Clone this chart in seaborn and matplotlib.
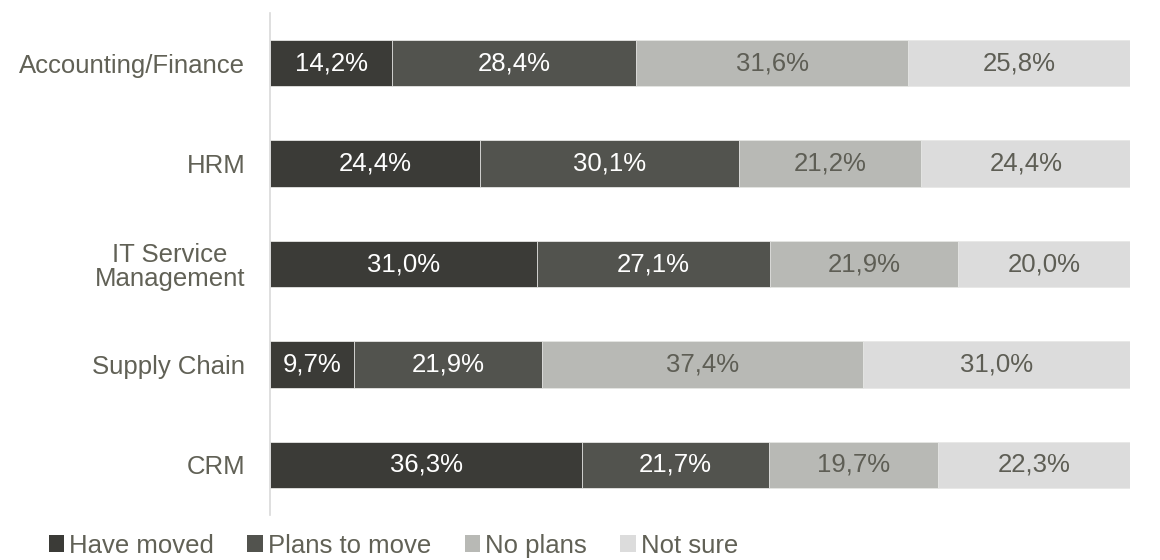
import numpy as np
import pandas as pd
import matplotlib
matplotlib.use("Agg")
import matplotlib.pyplot as plt
import seaborn as sns
from matplotlib.patches import Patch

# data
categorias = ["Accounting/Finance", "HRM", "IT Service\nManagement", "Supply Chain", "CRM"]
series = ["Have moved", "Plans to move", "No plans", "Not sure"]
have_moved = [14.2, 24.4, 31.0, 9.7, 36.3]
plans_to_move = [28.4, 30.1, 27.1, 21.9, 21.7]
no_plans = [31.6, 21.2, 21.9, 37.4, 19.7]
not_sure = [25.8, 24.4, 20.0, 31.0, 22.3]

colores = ["#3b3b37", "#52534e", "#b8b9b5", "#dcdcdc"]
color_texto = ["white", "white", "#5e5e55", "#5e5e55"]
gris = "#616156"
fs = 18.5

sns.set_style("white")
plt.rcParams["font.family"] = ["Liberation Sans", "DejaVu Sans"]

df = pd.DataFrame({"cat": categorias, "Have moved": have_moved,
                   "Plans to move": plans_to_move, "No plans": no_plans,
                   "Not sure": not_sure})
valores = df[series].to_numpy()
acumulado = np.cumsum(valores, axis=1)

fig = plt.figure(figsize=(11.6, 5.6), dpi=100)
ax = fig.add_axes([0.233, 0.080, 0.741, 0.897])

# barras apiladas: dibujar de la suma total hacia la primera serie
for i in range(len(series) - 1, -1, -1):
    sns.barplot(x=acumulado[:, i], y=df["cat"], orient="h", color=colores[i],
                width=0.46, edgecolor="#e8e8e6", linewidth=0.6, ax=ax,
                saturation=1)

for j in range(len(categorias)):
    for i in range(len(series)):
        izq = acumulado[j, i] - valores[j, i]
        centro = izq + valores[j, i] / 2
        ax.text(centro, j, f"{valores[j, i]:.1f}%".replace(".", ","),
                ha="center", va="center", fontsize=fs, color=color_texto[i])

ax.set_xlim(0, 100)
ax.set_ylim(4.5, -0.5)
ax.set_xlabel("")
ax.set_ylabel("")
ax.set_xticks([])
ax.tick_params(axis="y", length=0, pad=18, labelsize=fs, labelcolor=gris)
for lab in ax.get_yticklabels():
    lab.set_horizontalalignment("right")
    lab.set_multialignment("center")
    lab.set_linespacing(1.0)
for s in ["top", "right", "bottom"]:
    ax.spines[s].set_visible(False)
ax.spines["left"].set_color("#d9d9d9")
ax.spines["left"].set_linewidth(1.2)

handles = [Patch(facecolor=c, edgecolor="none", label=s) for c, s in zip(colores, series)]
fig.legend(handles=handles, loc="lower left", bbox_to_anchor=(0.022, -0.037), ncol=4,
           frameon=False, fontsize=fs, handlelength=0.6, handleheight=0.6,
           handletextpad=0.2, columnspacing=1.3, labelcolor=gris)

fig.savefig("out.png", dpi=100)
